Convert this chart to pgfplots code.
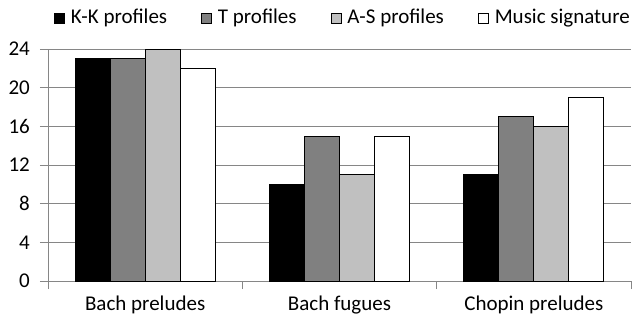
\documentclass[border=0pt]{standalone}
\usepackage{fontspec}
\setmainfont{Carlito}
\usepackage{pgfplots}
\pgfplotsset{compat=1.18}
\definecolor{axgray}{RGB}{134,134,134}
\pgfplotsset{ybar legend/.style={legend image code/.code={\draw[##1,draw=black,line width=0.8pt] (0pt,-5pt) rectangle (10pt,5pt);}}}
\begin{document}
\fontsize{21}{25}\selectfont
\begin{tikzpicture}
\begin{axis}[
  at={(0,0)}, anchor=south west,
  scale only axis, width=583pt, height=232pt,
  ybar=0pt, bar width=0.18,
  xmin=-0.5, xmax=2.5, ymin=0, ymax=24,
  xtick={0,1,2},
  xticklabels={Bach preludes, Bach fugues, Chopin preludes},
  minor xtick={-0.5,0.5,1.5,2.5},
  major x tick style={draw=none},
  ytick={0,4,...,24},
  ymajorgrids, grid style={axgray, line width=0.8pt},
  axis x line*=bottom, axis y line*=left,
  axis line style={-, draw=axgray, line width=0.8pt},
  tick style={axgray, line width=0.8pt},
  tick align=outside, major tick length=8pt, minor tick length=8pt,
  /pgf/number format/assume math mode=true,
  ticklabel style={font=\fontsize{21}{25}\selectfont},
  yticklabel style={xshift=-3pt},
  legend style={at={(1,1)}, anchor=east, draw=none, fill=none,
    legend columns=4, yshift=31pt, xshift=4pt, font=\fontsize{21}{25}\selectfont,
    /tikz/every odd column/.append style={column sep=4pt},
    /tikz/every even column/.append style={column sep=32pt}},
  legend cell align=left,
]
\addplot[fill=black, draw=black, line width=0.8pt] coordinates {(0,23) (1,10) (2,11)};
\addplot[fill={rgb,255:red,128;green,128;blue,128}, draw=black, line width=0.8pt] coordinates {(0,23) (1,15) (2,17)};
\addplot[fill={rgb,255:red,192;green,192;blue,192}, draw=black, line width=0.8pt] coordinates {(0,24) (1,11) (2,16)};
\addplot[fill=white, draw=black, line width=0.8pt] coordinates {(0,22) (1,15) (2,19)};
\legend{K-K profiles, T profiles, A-S profiles, Music signature}
\end{axis}
\pgfresetboundingbox
\path (-48pt,-36pt) rectangle (584pt,281pt);
\end{tikzpicture}
\end{document}
